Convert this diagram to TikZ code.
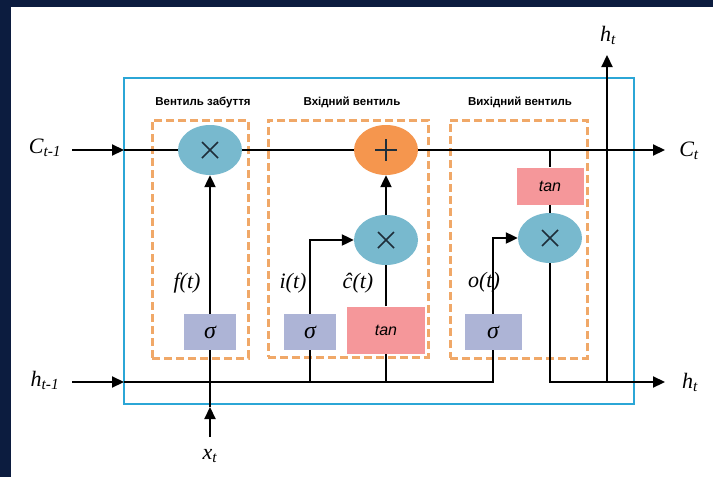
\documentclass[tikz,border=0pt]{standalone}
\usepackage{fontspec}
\usetikzlibrary{arrows.meta,shapes.geometric}
\newfontfamily\lsans{Liberation Sans}
\newfontfamily\tnr{Liberation Serif}
\definecolor{navy}{HTML}{0C1C3F}
\definecolor{boxblue}{HTML}{2BA6D6}
\definecolor{dashor}{HTML}{F0A868}
\definecolor{ellblue}{HTML}{78B9CE}
\definecolor{plusor}{HTML}{F5964E}
\definecolor{sigbox}{HTML}{ADB4D6}
\definecolor{tanbox}{HTML}{F5979A}
\definecolor{glyph}{HTML}{1E2E3A}
\begin{document}
\begin{tikzpicture}[x=1pt,y=-1pt,
  mult/.style={ellipse, fill=ellblue, minimum width=64pt, minimum height=50pt, inner sep=0pt,
    path picture={\draw[glyph, line width=1.6pt]
      ([shift={(-8,-8)}]path picture bounding box.center) -- ([shift={(8,8)}]path picture bounding box.center)
      ([shift={(-8,8)}]path picture bounding box.center) -- ([shift={(8,-8)}]path picture bounding box.center);}},
  addn/.style={ellipse, fill=plusor, minimum width=64pt, minimum height=50pt, inner sep=0pt,
    path picture={\draw[glyph, line width=1.6pt]
      ([shift={(-11,0)}]path picture bounding box.center) -- ([shift={(11,0)}]path picture bounding box.center)
      ([shift={(0,-11)}]path picture bounding box.center) -- ([shift={(0,11)}]path picture bounding box.center);}},
  gatebox/.style={draw=dashor, dash pattern=on 8pt off 4pt, line width=3pt, inner sep=0pt},
  sig/.style={fill=sigbox, minimum width=52pt, minimum height=36pt, inner sep=0pt, font=\tnr\itshape\fontsize{24}{24}\selectfont},
  tanb/.style={fill=tanbox, inner sep=0pt, font=\lsans\itshape\fontsize{16}{16}\selectfont},
  title/.style={font=\lsans\bfseries\fontsize{11.5}{13}\selectfont},
  lab/.style={font=\tnr\itshape\fontsize{22}{22}\selectfont, inner sep=0pt},
  wire/.style={line width=2.2pt},
  arr/.style={wire, -{Triangle[length=12pt,width=11pt]}}]
\fill[navy] (0,0) rectangle (713,477);
\fill[white] (11,7) rectangle (713,477);
\useasboundingbox (0,0) rectangle (713,477);

% frames
\node[draw=boxblue, line width=2.5pt, minimum width=510pt, minimum height=326pt, inner sep=0pt] (cell) at (379,241) {};
\node[gatebox, minimum width=96pt, minimum height=238pt] (fgate) at (200,239) {};
\node[gatebox, minimum width=160pt, minimum height=237pt] (igate) at (348,238.5) {};
\node[gatebox, minimum width=137pt, minimum height=238pt] (ogate) at (518.5,239) {};
\node[title] (ftitle) at (203,102) {Вентиль забуття};
\node[title] (ititle) at (352,102) {Вхідний вентиль};
\node[title] (otitle) at (520,102) {Вихідний вентиль};

% operators
\node[mult] (fx) at (210,150) {};
\node[addn] (plus) at (386,150) {};
\node[mult] (ix) at (386,240) {};
\node[mult] (ox) at (550,238) {};

% boxes
\node[sig] (fsig) at (210,332) {σ};
\node[sig] (isig) at (310,332) {σ};
\node[tanb, minimum width=78pt, minimum height=47pt] (itan) at (386,330) {tan};
\node[sig, minimum width=57pt] (osig) at (493,332) {σ};
\node[tanb, minimum width=67pt, minimum height=37pt] (otan) at (550,186) {tan};

% outer labels
\node[lab] (ctm1) at (45,148) {C\textsubscript{t-1}};
\node[lab] (ct) at (689,151) {C\textsubscript{t}};
\node[lab] (htm1) at (45,380) {h\textsubscript{t-1}};
\node[lab] (htr) at (690,382) {h\textsubscript{t}};
\node[lab] (htt) at (608,35) {h\textsubscript{t}};
\node[lab] (xt) at (210,456) {x\textsubscript{t}};
\node[lab] (ft) at (187,283) {f(t)};
\node[lab] (it) at (293,283) {i(t)};
\node[lab] (ct2) at (358,283) {ĉ(t)};
\node[lab] (ot) at (484,282) {o(t)};

% coordinates
\coordinate (cstart) at (72,150);
\coordinate (cin) at (124,150);
\coordinate (cend) at (665,150);
\coordinate (ctap) at (550,150);
\coordinate (hstart) at (72,382);
\coordinate (hin) at (124,382);
\coordinate (htend) at (665,382);
\coordinate (htap) at (607,382);
\coordinate (htop) at (607,55);
\coordinate (xstart) at (210,437);
\coordinate (xtip) at (210,407);

% cell state line
\draw[arr] (cstart) -- (cin);
\draw[wire] (cin) -- (fx);
\draw[wire] (fx) -- (plus);
\draw[arr] (plus) -- (cend);

% hidden input line
\draw[arr] (hstart) -- (hin);
\draw[wire] (hin) -| (osig);
\draw[arr] (xstart) -- (xtip);
\draw[wire] (xtip) -- (fsig);

% forget gate
\draw[arr] (fsig) -- (fx);

% input gate
\draw[wire] (isig |- hin) -- (isig);
\draw[arr] (isig) |- (ix);
\draw[wire] (itan |- hin) -- (itan);
\draw[wire] (itan) -- (ix);
\draw[arr] (ix) -- (plus);

% output gate
\draw[arr] (osig) |- (ox);
\draw[wire] (ctap) -- (otan);
\draw[wire] (otan) -- (ox);
\draw[arr] (ox) |- (htend);
\draw[arr] (htap) -- (htop);
\end{tikzpicture}
\end{document}
